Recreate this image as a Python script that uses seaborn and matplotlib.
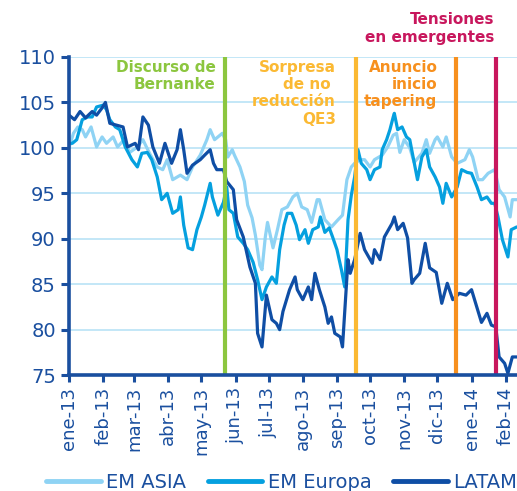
import pandas as pd
import seaborn as sns
import matplotlib.pyplot as plt

# Days since 1-ene-2013 and index values
dias_asia = [0, 4, 8, 12, 15, 20, 25, 30, 34, 40, 44, 50, 55, 62, 67, 73, 80, 85, 89, 94,
             101, 107, 112, 119, 125, 128, 132, 139, 142, 144, 148, 150, 155, 159, 162, 166,
             169, 173, 175, 178, 180, 185, 189, 193, 198, 203, 207, 211, 216, 220, 225, 227,
             232, 238, 244, 248, 252, 256, 259, 264, 268, 273, 277, 284, 289, 294, 297, 300,
             304, 309, 313, 320, 324, 327, 332, 334, 339, 342, 347, 352, 359, 363, 366, 371,
             375, 380, 386, 390, 395, 400, 402, 406]
asia = [100.0, 101.6, 102.3, 102.0, 101.2, 102.3, 100.1, 101.2, 100.5, 101.2, 100.1, 100.9,
        99.5, 100.1, 100.9, 99.4, 97.9, 97.6, 98.7, 96.5, 97.0, 96.5, 97.9, 99.2, 100.9, 102.0,
        100.9, 101.6, 100.9, 99.0, 99.8, 99.2, 97.9, 96.3, 93.7, 92.3, 90.4, 87.1, 86.6, 90.2,
        91.8, 89.0, 91.0, 93.2, 93.5, 94.6, 95.0, 93.5, 93.2, 91.8, 94.3, 94.3, 92.1, 91.3,
        92.1, 92.6, 96.5, 97.9, 98.3, 98.7, 98.7, 97.9, 98.7, 99.2, 100.1, 101.4, 101.6, 99.5,
        100.9, 100.0, 98.4, 99.4, 100.9, 99.4, 100.9, 101.2, 100.1, 101.2, 99.0, 98.3, 98.7,
        99.8, 99.0, 96.5, 96.5, 97.2, 97.6, 95.4, 94.6, 92.4, 94.3, 94.3]

dias_europa = [0, 3, 7, 12, 17, 21, 25, 31, 34, 37, 42, 46, 51, 57, 62, 66, 71, 75, 80, 84,
               89, 94, 99, 101, 104, 108, 112, 116, 120, 123, 128, 130, 135, 140, 143, 145,
               149, 153, 158, 162, 167, 171, 175, 179, 184, 188, 191, 195, 198, 202, 206, 209,
               214, 217, 221, 226, 228, 232, 236, 239, 243, 247, 250, 253, 256, 259, 262, 265,
               270, 273, 277, 282, 284, 288, 291, 294, 295, 298, 302, 306, 309, 312, 316, 320,
               324, 327, 332, 336, 339, 342, 347, 352, 356, 361, 365, 370, 374, 379, 383, 386,
               389, 393, 398, 401, 406]
europa = [100.5, 100.5, 100.9, 103.1, 103.4, 103.4, 104.5, 104.7, 104.2, 103.1, 102.3, 102.0,
          100.1, 98.7, 97.9, 99.4, 99.5, 98.7, 96.8, 94.3, 95.0, 92.8, 93.2, 94.6, 91.5, 89.0,
          88.8, 91.0, 92.4, 93.7, 96.1, 94.6, 92.6, 94.0, 95.7, 93.2, 92.8, 90.2, 89.5, 88.8,
          87.4, 85.5, 83.3, 84.7, 85.8, 85.1, 88.8, 91.5, 92.8, 92.8, 91.5, 89.9, 91.0, 89.5,
          91.0, 91.3, 92.4, 90.7, 91.2, 90.2, 88.8, 86.6, 84.7, 92.1, 94.8, 96.8, 99.8, 98.3,
          97.6, 96.5, 97.6, 97.9, 99.8, 100.9, 102.0, 103.4, 103.8, 102.0, 102.3, 101.2, 100.9,
          99.0, 96.5, 99.0, 99.8, 97.9, 96.8, 95.7, 93.9, 96.1, 94.6, 95.7, 97.6, 97.3, 97.2,
          95.7, 94.3, 94.6, 93.9, 93.9, 92.4, 89.9, 88.0, 91.0, 91.3]

dias_latam = [0, 5, 10, 15, 21, 25, 30, 33, 37, 43, 49, 53, 60, 63, 67, 72, 76, 82, 87, 93,
              98, 101, 104, 107, 112, 119, 123, 128, 131, 134, 140, 143, 149, 152, 158, 164,
              169, 171, 175, 179, 184, 188, 191, 194, 200, 205, 207, 212, 217, 220, 223, 227,
              232, 235, 238, 241, 246, 248, 253, 255, 259, 264, 268, 275, 277, 282, 286, 293,
              295, 298, 303, 307, 311, 313, 318, 323, 327, 333, 338, 343, 348, 354, 360, 365,
              370, 374, 379, 383, 387, 390, 395, 398, 402, 406]
latam = [103.6, 103.1, 104.0, 103.3, 104.0, 103.6, 104.4, 105.0, 102.7, 102.5, 102.3, 100.1,
         100.5, 99.8, 103.4, 102.5, 100.1, 98.3, 100.5, 98.3, 99.8, 102.0, 99.8, 97.2, 98.1,
         98.7, 99.2, 99.8, 98.3, 97.6, 97.6, 96.3, 95.4, 92.1, 90.2, 86.9, 85.1, 79.6, 78.1,
         83.8, 81.1, 80.7, 80.0, 82.0, 84.4, 85.8, 84.4, 83.3, 84.7, 83.3, 86.2, 84.4, 82.5,
         80.7, 81.4, 79.6, 79.2, 78.1, 87.7, 86.2, 87.7, 90.6, 88.8, 87.3, 88.8, 87.7, 90.2,
         91.7, 92.4, 91.0, 91.7, 90.1, 85.1, 85.5, 86.2, 89.5, 86.8, 86.3, 82.9, 85.1, 83.3,
         84.0, 83.8, 84.4, 82.4, 80.8, 81.8, 80.5, 80.3, 77.0, 76.3, 75.2, 77.0, 77.0]

series = ["EM ASIA", "EM Europa", "LATAM"]
colores = ["#8fd3f4", "#05a0df", "#0f4ea5"]

meses = ["ene-13", "feb-13", "mar-13", "abr-13", "may-13", "jun-13", "jul-13", "ago-13",
         "sep-13", "oct-13", "nov-13", "dic-13", "ene-14", "feb-14"]

eventos = ["2013-05-22", "2013-09-18", "2013-12-18", "2014-01-23"]
eventos_txt = ["Discurso de\nBernanke", "Sorpresa\nde no \nreducción\nQE3",
               "Anuncio\ninicio\ntapering", "Tensiones\nen emergentes"]
eventos_col = ["#8cc63f", "#fbb933", "#f7901e", "#c8175d"]

inicio = pd.Timestamp("2013-01-01")
frames = []
for nombre, d, v in zip(series, [dias_asia, dias_europa, dias_latam], [asia, europa, latam]):
    frames.append(pd.DataFrame({
        "fecha": inicio + pd.to_timedelta(d, unit="D"),
        "valor": v,
        "serie": nombre,
    }))
df = pd.concat(frames, ignore_index=True)

sns.set_style("white")
plt.rcParams["font.family"] = ["DejaVu Sans"]

azul = "#1a4f9f"
fig = plt.figure(figsize=(5.17, 4.91), dpi=100)
ax = fig.add_axes([0.1335, 0.236, 0.866, 0.648])

sns.lineplot(data=df, x="fecha", y="valor", hue="serie", hue_order=series,
             palette=colores, linewidth=2.3, ax=ax, legend=False, zorder=3)

# event lines
for fecha, col in zip(eventos, eventos_col):
    ax.axvline(pd.Timestamp(fecha), color=col, lw=3, zorder=4)

ax.set_ylim(75, 110)
ax.set_yticks(range(75, 111, 5))
ax.set_xlim(inicio, inicio + pd.Timedelta(days=406))
ticks = pd.date_range("2013-01-01", periods=len(meses), freq="MS")
ax.set_xticks(ticks)
ax.set_xticklabels(meses, rotation=90)
ax.set_xlabel("")
ax.set_ylabel("")

ax.grid(axis="y", color="#c3e7f7", lw=1.4)
ax.grid(axis="x", visible=False)
ax.set_axisbelow(True)
for s in ["top", "right"]:
    ax.spines[s].set_visible(False)
for s in ["left", "bottom"]:
    ax.spines[s].set_color(azul)
    ax.spines[s].set_linewidth(2.6)
    ax.spines[s].set_zorder(5)
ax.tick_params(axis="y", colors=azul, labelsize=14, length=6, width=2.2, direction="out", left=True)
ax.tick_params(axis="x", colors=azul, labelsize=13, length=5, width=2.2, direction="out", bottom=True)

# annotations
tx = {"Discurso de\nBernanke": (-8, 109.7), "Sorpresa\nde no \nreducción\nQE3": (-18, 109.7),
      "Anuncio\ninicio\ntapering": (-17, 109.7), "Tensiones\nen emergentes": (-1, 114.9)}
for fecha, txt, col in zip(eventos, eventos_txt, eventos_col):
    dx, y = tx[txt]
    ax.text(pd.Timestamp(fecha) + pd.Timedelta(days=dx), y, txt, color=col, fontsize=11,
            fontweight="bold", ha="right", va="top", linespacing=1.2, clip_on=False)

handles = [plt.Line2D([], [], color=c, lw=3.5) for c in colores]
fig.legend(handles, series, loc="center", bbox_to_anchor=(0.545, 0.018), ncol=3, frameon=False,
           fontsize=14, handlelength=2.8, handletextpad=0.3, columnspacing=1.1,
           labelcolor=azul)

fig.savefig("out.png", dpi=100)
